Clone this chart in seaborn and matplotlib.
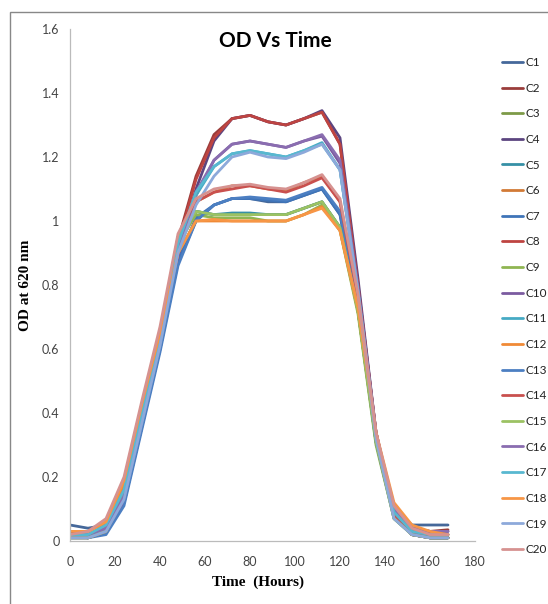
import pandas as pd
import matplotlib
matplotlib.use("Agg")
import matplotlib.pyplot as plt
import seaborn as sns
from matplotlib.patches import Rectangle

# ----------------------
# data (every 8 h)
# ----------------------
time_h = [0, 8, 16, 24, 32, 40, 48, 56, 64, 72, 80, 88, 96, 104, 112, 120, 128, 136, 144, 152, 160, 168]

c1 = [0.05, 0.04, 0.05, 0.12, 0.36, 0.60, 0.87, 1.00, 1.05, 1.07, 1.07, 1.06, 1.06, 1.08, 1.10, 1.02, 0.72, 0.32, 0.10, 0.05, 0.05, 0.05]
c2 = [0.03, 0.02, 0.04, 0.14, 0.39, 0.64, 0.94, 1.14, 1.27, 1.32, 1.33, 1.31, 1.30, 1.32, 1.34, 1.24, 0.80, 0.34, 0.09, 0.04, 0.03, 0.035]
c3 = [0.02, 0.01, 0.03, 0.13, 0.38, 0.62, 0.92, 1.03, 1.02, 1.02, 1.02, 1.02, 1.02, 1.04, 1.06, 0.98, 0.72, 0.31, 0.08, 0.02, 0.01, 0.01]
c4 = [0.03, 0.02, 0.03, 0.12, 0.36, 0.61, 0.90, 1.10, 1.25, 1.32, 1.33, 1.31, 1.30, 1.32, 1.345, 1.26, 0.82, 0.34, 0.09, 0.04, 0.03, 0.03]
c5 = [0.02, 0.01, 0.03, 0.13, 0.37, 0.62, 0.93, 1.03, 1.02, 1.025, 1.025, 1.02, 1.02, 1.04, 1.06, 0.98, 0.72, 0.31, 0.08, 0.02, 0.01, 0.01]
c6 = [0.02, 0.02, 0.05, 0.17, 0.41, 0.65, 0.95, 1.06, 1.09, 1.11, 1.11, 1.10, 1.095, 1.12, 1.14, 1.06, 0.76, 0.33, 0.09, 0.03, 0.02, 0.02]
c7 = [0.02, 0.02, 0.03, 0.12, 0.36, 0.60, 0.88, 1.01, 1.05, 1.07, 1.07, 1.065, 1.06, 1.08, 1.10, 1.02, 0.74, 0.32, 0.08, 0.02, 0.01, 0.01]
c8 = [0.02, 0.01, 0.03, 0.13, 0.38, 0.63, 0.93, 1.13, 1.26, 1.32, 1.33, 1.31, 1.30, 1.32, 1.34, 1.24, 0.80, 0.34, 0.08, 0.02, 0.01, 0.01]
c9 = [0.01, 0.01, 0.03, 0.14, 0.39, 0.63, 0.93, 1.02, 1.01, 1.01, 1.01, 1.00, 1.00, 1.02, 1.05, 0.97, 0.71, 0.30, 0.07, 0.02, 0.01, 0.01]
c10 = [0.02, 0.01, 0.03, 0.12, 0.36, 0.60, 0.89, 1.08, 1.19, 1.24, 1.25, 1.24, 1.23, 1.25, 1.265, 1.18, 0.79, 0.33, 0.09, 0.03, 0.02, 0.02]
c11 = [0.01, 0.01, 0.04, 0.15, 0.39, 0.63, 0.92, 1.08, 1.17, 1.21, 1.22, 1.21, 1.20, 1.22, 1.245, 1.16, 0.78, 0.33, 0.08, 0.02, 0.01, 0.01]
c12 = [0.02, 0.03, 0.06, 0.18, 0.42, 0.64, 0.90, 1.00, 1.00, 1.00, 1.00, 1.00, 1.00, 1.02, 1.045, 0.97, 0.72, 0.33, 0.11, 0.04, 0.02, 0.02]
c13 = [0.01, 0.01, 0.02, 0.11, 0.35, 0.59, 0.86, 1.00, 1.05, 1.07, 1.075, 1.07, 1.065, 1.085, 1.105, 1.03, 0.74, 0.31, 0.07, 0.02, 0.01, 0.01]
c14 = [0.01, 0.01, 0.03, 0.14, 0.39, 0.64, 0.94, 1.06, 1.09, 1.10, 1.11, 1.10, 1.09, 1.11, 1.135, 1.06, 0.76, 0.33, 0.08, 0.02, 0.01, 0.01]
c15 = [0.01, 0.01, 0.03, 0.14, 0.39, 0.64, 0.95, 1.03, 1.02, 1.02, 1.02, 1.02, 1.02, 1.04, 1.06, 0.98, 0.72, 0.31, 0.07, 0.02, 0.01, 0.01]
c16 = [0.02, 0.02, 0.04, 0.14, 0.38, 0.62, 0.91, 1.09, 1.19, 1.24, 1.25, 1.24, 1.23, 1.25, 1.27, 1.19, 0.79, 0.34, 0.10, 0.04, 0.03, 0.03]
c17 = [0.02, 0.02, 0.05, 0.16, 0.40, 0.64, 0.93, 1.09, 1.17, 1.21, 1.22, 1.21, 1.20, 1.22, 1.24, 1.16, 0.78, 0.33, 0.09, 0.03, 0.02, 0.02]
c18 = [0.03, 0.03, 0.06, 0.19, 0.43, 0.65, 0.90, 1.00, 1.005, 1.00, 1.00, 1.00, 1.00, 1.02, 1.04, 0.97, 0.73, 0.34, 0.12, 0.05, 0.03, 0.02]
c19 = [0.01, 0.01, 0.03, 0.13, 0.37, 0.61, 0.90, 1.05, 1.14, 1.20, 1.215, 1.20, 1.195, 1.215, 1.24, 1.16, 0.78, 0.32, 0.07, 0.02, 0.01, 0.01]
c20 = [0.02, 0.03, 0.07, 0.20, 0.44, 0.67, 0.96, 1.07, 1.10, 1.11, 1.115, 1.105, 1.10, 1.12, 1.145, 1.07, 0.77, 0.34, 0.11, 0.04, 0.02, 0.02]

series = [c1, c2, c3, c4, c5, c6, c7, c8, c9, c10,
          c11, c12, c13, c14, c15, c16, c17, c18, c19, c20]
names = ["C" + str(i) for i in range(1, 21)]

# excel style colours
colores = ["#45689A", "#9A3D3B", "#7D9A48", "#5C4580", "#3690A6", "#D27A36",
           "#3F74B8", "#BE4441", "#8FB552", "#7B5BA0", "#46AAC4", "#F08A36",
           "#4C7FC2", "#C9504E", "#9CC263", "#8A6DB0", "#58B8D0", "#F79646",
           "#8DA9DA", "#D69290"]

rows = []
for n, vals in zip(names, series):
    for t, v in zip(time_h, vals):
        rows.append({"Time": t, "OD": v, "Serie": n})
df = pd.DataFrame(rows)

# ----------------------
# plot
# ----------------------
sns.set_style("white")
plt.rcParams["font.family"] = ["Lato", "DejaVu Sans"]

fig = plt.figure(figsize=(5.48, 6.04), dpi=100)
ax = fig.add_axes([70 / 548, 1 - 541 / 604, 405 / 548, 512 / 604])

sns.lineplot(data=df, x="Time", y="OD", hue="Serie", palette=colores,
             linewidth=2.0, ax=ax, legend=True)

ax.set_xlim(0, 180)
ax.set_ylim(0, 1.6)
ax.set_xticks(range(0, 181, 20))
ax.set_yticks([0, 0.2, 0.4, 0.6, 0.8, 1.0, 1.2, 1.4, 1.6])
ax.set_yticklabels(["0", "0.2", "0.4", "0.6", "0.8", "1", "1.2", "1.4", "1.6"])
ax.tick_params(axis="both", colors="#bbbbbb", labelcolor="#444444", labelsize=9,
               length=4, width=0.8, direction="out")
ax.tick_params(axis="x", pad=7)
for s in ["top", "right"]:
    ax.spines[s].set_visible(False)
for s in ["left", "bottom"]:
    ax.spines[s].set_color("#bbbbbb")
    ax.spines[s].set_linewidth(0.9)

ax.set_xlabel("Time  (Hours)", family="Liberation Serif", fontweight="bold",
              fontsize=11, color="black")
ax.set_ylabel("OD at 620 nm", family="Liberation Serif", fontweight="bold",
              fontsize=11, color="black")
ax.xaxis.set_label_coords(0.465, -0.068)
ax.yaxis.set_label_coords(-0.095, 0.5)

fig.text(275 / 548, 1 - 41 / 604, "OD Vs Time", ha="center", va="center",
         fontsize=15, fontweight="bold", color="black")

leg = ax.legend(loc="upper left", bbox_to_anchor=(502 / 548, 1 - 57 / 604),
                bbox_transform=fig.transFigure, frameon=False, fontsize=8.5,
                handlelength=1.8, handletextpad=0.2, labelspacing=1.24,
                borderaxespad=0, borderpad=0)
for txt in leg.get_texts():
    txt.set_color("#222222")
for ln in leg.get_lines():
    ln.set_linewidth(2.0)

# outer chart frame
fig.patches.append(Rectangle((10 / 548, -0.05), 1.1, 1 - 12 / 604 + 0.05,
                             transform=fig.transFigure, fill=False,
                             edgecolor="#888888", linewidth=1.0))

fig.savefig("out.png", dpi=100)
